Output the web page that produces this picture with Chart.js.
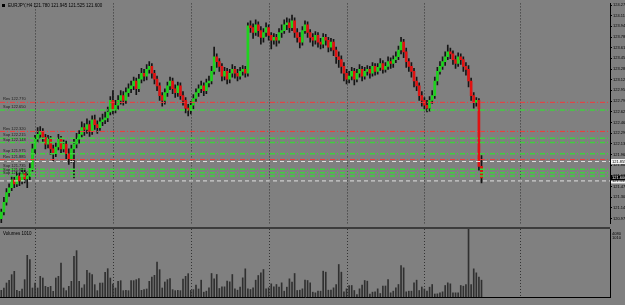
<!DOCTYPE html>
<html>
<head>
<meta charset="utf-8">
<script src="https://cdn.jsdelivr.net/npm/chart.js@4.4.1/dist/chart.umd.min.js"></script>
<style>
html, body { margin: 0; padding: 0; background: #808080; width: 625px; height: 305px; overflow: hidden; font-family: "Liberation Sans", Arial, sans-serif; }
#wrap { position: relative; width: 625px; height: 305px; }
canvas { position: absolute; left: 0; }
#price { top: 0; }
#vol { top: 229px; }
.line { position: absolute; background: #3c3c3c; }
.txt { position: absolute; font-size: 4.5px; line-height: 5px; color: #000; white-space: nowrap; }
</style>
</head>
<body>
<div id="wrap">
  <canvas id="price" width="625" height="227"></canvas>
  <canvas id="vol" width="625" height="76"></canvas>
  <div class="line" style="left:0;top:227px;width:610px;height:2px"></div>
  <div class="line" style="left:2px;top:4px;width:3px;height:3px;background:#000"></div>
  <div class="txt" id="title" style="left:8px;top:3px"></div>
  <div class="txt" id="volTitle" style="left:3px;top:231px"></div>
  <div class="txt" id="volMax" style="left:612px;top:231px;font-size:4px"></div>
  <div class="txt" id="volLast" style="left:612px;top:235px;font-size:4px"></div>
</div>
<script>
// EURJPY H4, one entry per candle
const opens = [
  120.97, 121.075, 121.225, 121.375, 121.45, 121.57, 121.51, 121.63, 121.555, 121.675,
  121.585, 121.63, 121.75, 122.05, 122.2, 122.275, 122.32, 122.23, 122.125, 122.2,
  122.05, 121.975, 122.08, 122.2, 122.05, 122.125, 121.975, 121.9, 122.05, 122.125,
  122.2, 122.275, 122.38, 122.35, 122.425, 122.32, 122.5, 122.425, 122.38, 122.47,
  122.5, 122.53, 122.62, 122.8, 122.65, 122.725, 122.8, 122.875, 122.8, 122.92,
  122.98, 123.025, 123.1, 122.98, 123.13, 123.22, 123.175, 123.28, 123.325, 123.22,
  123.13, 123.025, 122.875, 122.8, 122.92, 123.025, 123.1, 122.98, 122.92, 123.025,
  122.875, 122.8, 122.68, 122.65, 122.725, 122.83, 122.92, 122.98, 123.025, 122.95,
  123.07, 123.1, 123.25, 123.475, 123.4, 123.325, 123.175, 123.25, 123.13, 123.22,
  123.28, 123.22, 123.175, 123.25, 123.28, 123.22, 123.955, 123.925, 123.85, 123.97,
  123.88, 123.775, 123.85, 123.925, 123.805, 123.73, 123.775, 123.73, 123.85, 123.88,
  123.97, 124.0, 123.925, 124.03, 123.85, 123.775, 123.7, 123.88, 123.97, 123.85,
  123.775, 123.73, 123.805, 123.7, 123.67, 123.775, 123.73, 123.625, 123.7, 123.58,
  123.475, 123.43, 123.325, 123.22, 123.13, 123.175, 123.25, 123.13, 123.22, 123.28,
  123.175, 123.25, 123.28, 123.22, 123.325, 123.25, 123.31, 123.37, 123.28, 123.325,
  123.4, 123.37, 123.43, 123.475, 123.58, 123.7, 123.55, 123.4, 123.325, 123.25,
  123.1, 123.025, 122.875, 122.8, 122.725, 122.68, 122.8, 122.875, 123.1, 123.25,
  123.325, 123.4, 123.475, 123.55, 123.52, 123.43, 123.37, 123.475, 123.43, 123.325,
  123.28, 123.1, 122.875, 122.77, 122.8, 121.78
];
const highs = [
  121.12, 121.3, 121.435, 121.51, 121.63, 121.615, 121.69, 121.675, 121.75, 121.72,
  121.69, 121.825, 122.125, 122.26, 122.38, 122.395, 122.365, 122.275, 122.26, 122.245,
  122.11, 122.14, 122.275, 122.245, 122.185, 122.17, 122.05, 122.11, 122.2, 122.29,
  122.335, 122.47, 122.44, 122.515, 122.485, 122.56, 122.575, 122.485, 122.53, 122.59,
  122.62, 122.695, 122.86, 122.95, 122.8, 122.875, 122.95, 122.935, 122.995, 123.055,
  123.1, 123.16, 123.145, 123.205, 123.295, 123.28, 123.355, 123.4, 123.37, 123.265,
  123.175, 123.07, 122.92, 122.98, 123.085, 123.16, 123.145, 123.04, 123.085, 123.07,
  122.935, 122.845, 122.74, 122.785, 122.89, 122.98, 123.04, 123.1, 123.07, 123.13,
  123.175, 123.325, 123.625, 123.52, 123.445, 123.37, 123.31, 123.295, 123.28, 123.355,
  123.325, 123.28, 123.31, 123.34, 123.325, 124.0, 124.03, 123.985, 124.045, 124.015,
  123.94, 123.91, 124.0, 123.97, 123.85, 123.835, 123.82, 123.91, 123.97, 124.045,
  124.075, 124.06, 124.12, 124.075, 123.91, 123.85, 123.94, 124.03, 124.015, 123.895,
  123.835, 123.865, 123.85, 123.76, 123.835, 123.82, 123.775, 123.76, 123.745, 123.625,
  123.55, 123.49, 123.385, 123.28, 123.25, 123.31, 123.295, 123.28, 123.355, 123.325,
  123.31, 123.34, 123.325, 123.385, 123.37, 123.37, 123.445, 123.415, 123.385, 123.475,
  123.46, 123.49, 123.55, 123.64, 123.775, 123.745, 123.61, 123.445, 123.385, 123.295,
  123.16, 123.07, 122.935, 122.845, 122.8, 122.86, 122.95, 123.16, 123.31, 123.4,
  123.475, 123.55, 123.655, 123.61, 123.565, 123.49, 123.535, 123.52, 123.475, 123.385,
  123.34, 123.145, 122.92, 122.845, 122.83, 121.945
];
const lows = [
  120.91, 121.03, 121.18, 121.315, 121.405, 121.45, 121.465, 121.48, 121.51, 121.525,
  121.45, 121.57, 121.705, 121.975, 122.155, 122.215, 122.155, 122.05, 122.065, 121.96,
  121.87, 121.93, 122.035, 121.99, 122.005, 121.9, 121.81, 121.84, 121.6, 122.065,
  122.14, 122.23, 122.26, 122.29, 122.245, 122.275, 122.35, 122.29, 122.335, 122.41,
  122.44, 122.47, 122.575, 122.59, 122.605, 122.665, 122.74, 122.725, 122.755, 122.86,
  122.92, 122.965, 122.89, 122.935, 123.07, 123.1, 123.115, 123.22, 123.145, 123.055,
  122.95, 122.8, 122.71, 122.74, 122.86, 122.965, 122.905, 122.845, 122.86, 122.815,
  122.725, 122.605, 122.56, 122.59, 122.665, 122.785, 122.86, 122.92, 122.875, 122.905,
  123.01, 123.055, 123.205, 123.31, 123.25, 123.1, 123.115, 123.055, 123.07, 123.16,
  123.145, 123.1, 123.13, 123.19, 123.16, 123.175, 123.85, 123.76, 123.805, 123.79,
  123.67, 123.7, 123.79, 123.73, 123.595, 123.67, 123.64, 123.685, 123.775, 123.835,
  123.895, 123.85, 123.88, 123.775, 123.7, 123.61, 123.655, 123.835, 123.775, 123.7,
  123.64, 123.67, 123.625, 123.595, 123.61, 123.655, 123.55, 123.565, 123.49, 123.37,
  123.31, 123.22, 123.1, 123.055, 123.07, 123.115, 123.04, 123.085, 123.16, 123.1,
  123.13, 123.19, 123.145, 123.175, 123.19, 123.205, 123.265, 123.22, 123.235, 123.28,
  123.295, 123.31, 123.385, 123.43, 123.52, 123.46, 123.31, 123.25, 123.16, 123.01,
  122.95, 122.8, 122.71, 122.65, 122.62, 122.635, 122.755, 122.83, 123.04, 123.205,
  123.28, 123.34, 123.43, 123.445, 123.355, 123.295, 123.325, 123.355, 123.25, 123.19,
  123.01, 122.8, 122.68, 122.71, 121.72, 121.525
];
const closes = [
  121.075, 121.225, 121.375, 121.45, 121.57, 121.51, 121.63, 121.555, 121.675, 121.585,
  121.63, 121.75, 122.05, 122.2, 122.275, 122.32, 122.23, 122.125, 122.2, 122.05,
  121.975, 122.08, 122.2, 122.05, 122.125, 121.975, 121.9, 122.05, 122.125, 122.2,
  122.275, 122.38, 122.35, 122.425, 122.32, 122.5, 122.425, 122.38, 122.47, 122.5,
  122.53, 122.62, 122.8, 122.65, 122.725, 122.8, 122.875, 122.8, 122.92, 122.98,
  123.025, 123.1, 122.98, 123.13, 123.22, 123.175, 123.28, 123.325, 123.22, 123.13,
  123.025, 122.875, 122.8, 122.92, 123.025, 123.1, 122.98, 122.92, 123.025, 122.875,
  122.8, 122.68, 122.65, 122.725, 122.83, 122.92, 122.98, 123.025, 122.95, 123.07,
  123.1, 123.25, 123.475, 123.4, 123.325, 123.175, 123.25, 123.13, 123.22, 123.28,
  123.22, 123.175, 123.25, 123.28, 123.22, 123.955, 123.925, 123.85, 123.97, 123.88,
  123.775, 123.85, 123.925, 123.805, 123.73, 123.775, 123.73, 123.85, 123.88, 123.97,
  124.0, 123.925, 124.03, 123.85, 123.775, 123.7, 123.88, 123.97, 123.85, 123.775,
  123.73, 123.805, 123.7, 123.67, 123.775, 123.73, 123.625, 123.7, 123.58, 123.475,
  123.43, 123.325, 123.22, 123.13, 123.175, 123.25, 123.13, 123.22, 123.28, 123.175,
  123.25, 123.28, 123.22, 123.325, 123.25, 123.31, 123.37, 123.28, 123.325, 123.4,
  123.37, 123.43, 123.475, 123.58, 123.7, 123.55, 123.4, 123.325, 123.25, 123.1,
  123.025, 122.875, 122.8, 122.725, 122.68, 122.8, 122.875, 123.1, 123.25, 123.325,
  123.4, 123.475, 123.55, 123.52, 123.43, 123.37, 123.475, 123.43, 123.325, 123.28,
  123.1, 122.875, 122.77, 122.8, 121.78, 121.6
];
const volumes = [
  400, 540, 840, 1000, 1340, 1540, 400, 340, 480, 1040,
  2500, 2240, 540, 840, 540, 1240, 1140, 640, 580, 640,
  340, 1140, 1240, 2040, 540, 380, 640, 940, 2440, 2780,
  940, 540, 740, 1600, 1440, 1340, 740, 380, 840, 840,
  1480, 1700, 1140, 780, 540, 940, 980, 380, 400, 380,
  980, 980, 1040, 1100, 400, 440, 480, 940, 1200, 1300,
  2100, 1640, 540, 900, 1040, 1100, 440, 380, 400, 380,
  1080, 1240, 1400, 400, 440, 720, 480, 1010, 290, 350,
  550, 1410, 1090, 1350, 510, 610, 610, 950, 910, 1350,
  490, 410, 590, 1150, 1690, 490, 450, 550, 1010, 1290,
  1450, 1650, 490, 550, 790, 610, 750, 590, 850, 350,
  590, 1090, 890, 1410, 390, 410, 490, 1010, 990, 850,
  290, 250, 350, 350, 1550, 1490, 410, 410, 550, 750,
  1950, 1490, 310, 490, 690, 690, 390, 150, 490, 710,
  990, 950, 180, 290, 310, 490, 210, 660, 660, 1050,
  250, 350, 550, 750, 1890, 1750, 310, 350, 350, 850,
  1010, 390, 600, 480, 350, 590, 750, 180, 190, 250,
  310, 690, 850, 790, 250, 250, 250, 690, 650, 750,
  4200, 750, 1690, 1450, 1200, 1010
];

// time axis labels, one every 8 bars
const timeLabels = [
  "4 May 2017", "7 May 04:00", "10 May 12:00", "11 May 20:00", "13 May 04:00", "14 May 12:00",
  "17 May 20:00", "19 May 04:00", "20 May 12:00", "21 May 20:00", "23 May 04:00", "24 May 12:00",
  "27 May 20:00", "29 May 04:00", "1 Jun 12:00", "2 Jun 20:00", "4 Jun 04:00", "7 Jun 12:00",
  "8 Jun 20:00", "10 Jun 04:00", "11 Jun 12:00", "14 Jun 20:00", "16 Jun 04:00", "17 Jun 12:00"
];
const priceTicks = [
  124.275, 124.110, 123.945, 123.780, 123.615, 123.450, 123.285, 123.120, 122.955, 122.790, 122.625,
  122.460, 122.295, 122.130, 121.965, 121.800, 121.635, 121.470, 121.305, 121.140, 120.975
];
// week separators (bar index)
const separators = [13, 43, 73, 103, 133, 163, 200];
// horizontal levels drawn on the chart
const levelPrices = [122.770, 122.650, 122.320, 122.215, 122.148, 121.975, 121.885, 121.855, 121.735, 121.683, 121.630, 121.555];
const levelKinds = ['res', 'sup', 'res', 'sup', 'sup', 'sup', 'res', 'mark', 'sup', 'sup', 'sup', 'mark'];

const SLOTS = 235;
const last = closes.length - 1;
const slots = Array.from({ length: SLOTS }, (_, i) => (i % 8 === 0 && i / 8 < timeLabels.length) ? timeLabels[i / 8] : '');

document.getElementById('title').textContent =
  'EURJPY,H4  ' + [opens[last], highs[last], lows[last], closes[last]].map(v => v.toFixed(3)).join(' ');
document.getElementById('volTitle').textContent = 'Volumes ' + volumes[last];
document.getElementById('volMax').textContent = '4080';
document.getElementById('volLast').textContent = String(volumes[last]);

const FONT = 'Liberation Sans';
const styles = {
  res: { color: '#f03a3a', width: 1, dash: [5, 2, 1, 2], name: 'Res' },
  sup: { color: '#3fd03f', width: 1.5, dash: [5, 2, 1, 2], name: 'Sup' },
  mark: { color: '#e0e0e0', width: 1, dash: [4, 3] }
};

function drawSeparators(chart) {
  const { ctx, chartArea: a, scales: { x } } = chart;
  ctx.save();
  ctx.strokeStyle = '#333';
  ctx.lineWidth = 1;
  ctx.setLineDash([1, 2]);
  separators.forEach(i => {
    const px = Math.round(x.getPixelForValue(i)) + 0.5;
    ctx.beginPath();
    ctx.moveTo(px, a.top);
    ctx.lineTo(px, a.bottom);
    ctx.stroke();
  });
  ctx.restore();
}

const priceOverlay = {
  id: 'priceOverlay',
  beforeDatasetsDraw(chart) { drawSeparators(chart); },
  afterDatasetsDraw(chart) {
    const { ctx, chartArea: a, scales: { y } } = chart;
    ctx.save();
    levelPrices.forEach((p, k) => {
      const st = styles[levelKinds[k]];
      const py = y.getPixelForValue(p);
      ctx.strokeStyle = st.color;
      ctx.lineWidth = st.width;
      ctx.setLineDash(st.dash);
      ctx.beginPath();
      ctx.moveTo(a.left, py);
      ctx.lineTo(a.right, py);
      ctx.stroke();
      if (st.name) {
        ctx.setLineDash([]);
        ctx.fillStyle = '#1a1a1a';
        ctx.font = '4px "' + FONT + '"';
        ctx.textBaseline = 'bottom';
        ctx.fillText(st.name + ' ' + p.toFixed(3), 3, py - 1);
      }
    });
    ctx.restore();
  },
  afterDraw(chart) {
    const { ctx, chartArea: a, scales: { y } } = chart;
    ctx.save();
    ctx.font = '4px "' + FONT + '"';
    ctx.textBaseline = 'middle';
    const box = (p, bg, fg) => {
      const py = y.getPixelForValue(p);
      ctx.fillStyle = bg;
      ctx.fillRect(a.right + 1, py - 2.5, 14, 5);
      ctx.fillStyle = fg;
      ctx.fillText(p.toFixed(3), a.right + 2, py);
    };
    levelPrices.forEach((p, k) => { if (levelKinds[k] === 'mark') box(p, '#f2f2f2', '#000'); });
    box(closes[last], '#000', '#fff');
    ctx.restore();
  }
};

new Chart(document.getElementById('price'), {
  type: 'bar',
  data: {
    labels: slots,
    datasets: [
      {
        label: 'wick',
        data: lows.map((l, i) => [l, highs[i]]),
        backgroundColor: '#141414',
        barThickness: 1,
        grouped: false,
        order: 2
      },
      {
        label: 'body',
        data: opens.map((o, i) => [o, closes[i]]),
        backgroundColor: opens.map((o, i) => closes[i] >= o ? '#1fd21f' : '#e01212'),
        barThickness: 2,
        minBarLength: 1,
        grouped: false,
        order: 1
      }
    ]
  },
  options: {
    responsive: false,
    animation: false,
    layout: { padding: 0 },
    plugins: { legend: { display: false }, tooltip: { enabled: false } },
    scales: {
      x: { display: false, offset: true },
      y: {
        position: 'right',
        min: 120.895,
        max: 124.3,
        afterBuildTicks: s => { s.ticks = priceTicks.map(v => ({ value: v })); },
        afterFit: s => { s.width = 15; },
        grid: { drawOnChartArea: false, tickLength: 2, color: '#000', tickColor: '#000' },
        border: { color: '#000', width: 1 },
        ticks: { font: { size: 4, family: FONT }, color: '#000', padding: 1, callback: v => v.toFixed(3) }
      }
    }
  },
  plugins: [priceOverlay]
});

new Chart(document.getElementById('vol'), {
  type: 'bar',
  data: {
    labels: slots,
    datasets: [{
      label: 'Volumes',
      data: volumes,
      backgroundColor: '#303030',
      barThickness: 1
    }]
  },
  options: {
    responsive: false,
    animation: false,
    layout: { padding: 0 },
    plugins: { legend: { display: false }, tooltip: { enabled: false } },
    scales: {
      x: {
        offset: true,
        grid: { display: false },
        border: { display: true, color: '#000' },
        afterFit: s => { s.height = 8; },
        ticks: {
          autoSkip: false, maxRotation: 0, minRotation: 0, align: 'start', padding: 1,
          font: { size: 4.5, family: FONT }, color: '#000',
          callback: (v, i) => slots[i]
        }
      },
      y: {
        position: 'right',
        min: 0,
        max: 4080,
        afterFit: s => { s.width = 15; },
        grid: { display: false },
        border: { color: '#000', width: 1 },
        ticks: { display: false }
      }
    }
  },
  plugins: [{ id: 'volSep', beforeDatasetsDraw(chart) { drawSeparators(chart); } }]
});
</script>
</body>
</html>
